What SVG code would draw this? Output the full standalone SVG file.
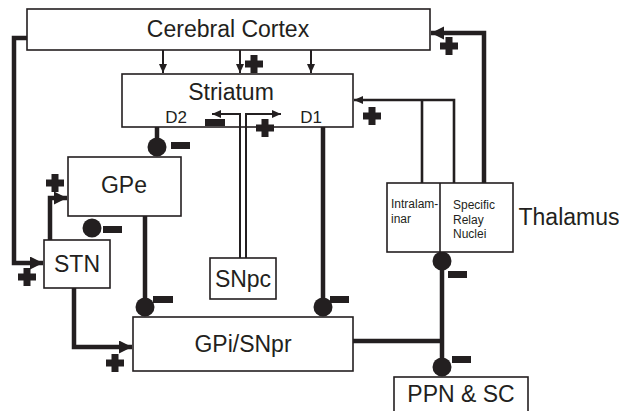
<svg xmlns="http://www.w3.org/2000/svg" xmlns:xlink="http://www.w3.org/1999/xlink" width="619" height="411" viewBox="0 0 619 411">
<defs>
<style>
.box{fill:#fff;stroke:#231f20;stroke-width:1.6}
.lbl{font-family:"Liberation Sans",Arial,sans-serif;font-size:23px;fill:#231f20;text-anchor:middle}
.sm{font-family:"Liberation Sans",Arial,sans-serif;font-size:12px;fill:#231f20}
.d{font-family:"Liberation Sans",Arial,sans-serif;font-size:17px;fill:#231f20;text-anchor:middle}
.thick{fill:none;stroke:#231f20;stroke-width:4.5;stroke-linejoin:miter}
.thin{fill:none;stroke:#231f20;stroke-width:2}
.mid{fill:none;stroke:#231f20;stroke-width:2.6}
.sym{fill:#231f20}
</style>
<marker id="ah" markerUnits="userSpaceOnUse" markerWidth="14" markerHeight="14" refX="13" refY="6.5" orient="auto">
<path d="M0,0 L13,6.5 L0,13 Z" fill="#231f20"/>
</marker>
<marker id="as" markerUnits="userSpaceOnUse" markerWidth="10" markerHeight="10" refX="9" refY="4" orient="auto">
<path d="M0,0 L9,4 L0,8 Z" fill="#231f20"/>
</marker>
<g id="plus"><rect x="-9" y="-3.5" width="18" height="7"/><rect x="-3.5" y="-9" width="7" height="18"/></g>
</defs>

<g id="connectors">
<path class="thin" d="M163,50 V73" marker-end="url(#as)"/>
<path class="thin" d="M240,50 V73" marker-end="url(#as)"/>
<path class="thin" d="M311,50 V73" marker-end="url(#as)"/>
<path class="thick" d="M27,38 H14 V263 H43" marker-end="url(#ah)"/>
<path class="thick" d="M484,183 V33 H431" marker-end="url(#ah)"/>
<path class="mid" d="M422,183 V100"/>
<path class="mid" d="M454,183 V100 H354" marker-end="url(#as)"/>
<path class="thin" d="M240,258 V114 H212" marker-end="url(#as)"/>
<path class="thin" d="M246,258 V114 H281" marker-end="url(#as)"/>
<path class="thick" d="M157,127 V147"/>
<path class="thick" d="M323,127 V307"/>
<path class="thick" d="M145,216 V307"/>
<path class="thick" d="M50,240 V198 H67" marker-end="url(#ah)"/>
<path class="thick" d="M74,288 V347 H132" marker-end="url(#ah)"/>
<path class="thick" d="M353,341 H442"/>
<path class="thick" d="M442,261 V367"/>
<circle class="sym" cx="157" cy="147" r="9.5"/>
<circle class="sym" cx="92" cy="228" r="9.5"/>
<circle class="sym" cx="145" cy="307" r="9.5"/>
<circle class="sym" cx="323" cy="307" r="9.5"/>
<circle class="sym" cx="442" cy="261" r="9.5"/>
<circle class="sym" cx="442" cy="367" r="9.5"/>
<rect class="sym" x="171" y="142" width="19" height="7"/>
<rect class="sym" x="103" y="226" width="19" height="7"/>
<rect class="sym" x="153" y="296" width="20" height="7"/>
<rect class="sym" x="330" y="296" width="19" height="7"/>
<rect class="sym" x="448" y="271" width="19" height="7"/>
<rect class="sym" x="452" y="356" width="19" height="7"/>
<rect class="sym" x="205" y="119" width="20" height="7"/>
<use class="sym" xlink:href="#plus" href="#plus" x="254" y="64"/>
<use class="sym" xlink:href="#plus" href="#plus" x="449" y="46"/>
<use class="sym" xlink:href="#plus" href="#plus" x="372" y="116"/>
<use class="sym" xlink:href="#plus" href="#plus" x="265" y="128"/>
<use class="sym" xlink:href="#plus" href="#plus" x="55" y="183"/>
<use class="sym" xlink:href="#plus" href="#plus" x="27" y="277"/>
<use class="sym" xlink:href="#plus" href="#plus" x="115" y="363"/>
</g>

<g id="cortex">
<rect class="box" x="27" y="9" width="403" height="41"/>
<text class="lbl" x="228" y="37">Cerebral Cortex</text>
</g>
<g id="striatum">
<rect class="box" x="122" y="74" width="231" height="53" fill-opacity="0"/>
<text class="lbl" x="231" y="100">Striatum</text>
<text class="d" x="176" y="123">D2</text>
<text class="d" x="311" y="123">D1</text>
</g>
<g id="gpe">
<rect class="box" x="68" y="157" width="113" height="59"/>
<text class="lbl" x="124" y="193">GPe</text>
</g>
<g id="stn">
<rect class="box" x="44" y="240" width="66" height="48"/>
<text class="lbl" x="77" y="272">STN</text>
</g>
<g id="snpc">
<rect class="box" x="210" y="258" width="66" height="41"/>
<text class="lbl" x="243" y="287">SNpc</text>
</g>
<g id="gpi">
<rect class="box" x="133" y="317" width="220" height="54"/>
<text class="lbl" x="243" y="352">GPi/SNpr</text>
</g>
<g id="thalamus">
<rect class="box" x="387" y="183" width="126" height="69"/>
<line x1="440" y1="183" x2="440" y2="252" stroke="#231f20" stroke-width="1.6"/>
<text class="sm" x="391" y="208">Intralam-</text>
<text class="sm" x="391" y="223">inar</text>
<text class="sm" x="453" y="209">Specific</text>
<text class="sm" x="453" y="224">Relay</text>
<text class="sm" x="453" y="238">Nuclei</text>
<text class="lbl" x="569" y="225">Thalamus</text>
</g>
<g id="ppn">
<rect class="box" x="394" y="377" width="134" height="40"/>
<text class="lbl" x="461" y="402">PPN &amp; SC</text>
</g>
</svg>
